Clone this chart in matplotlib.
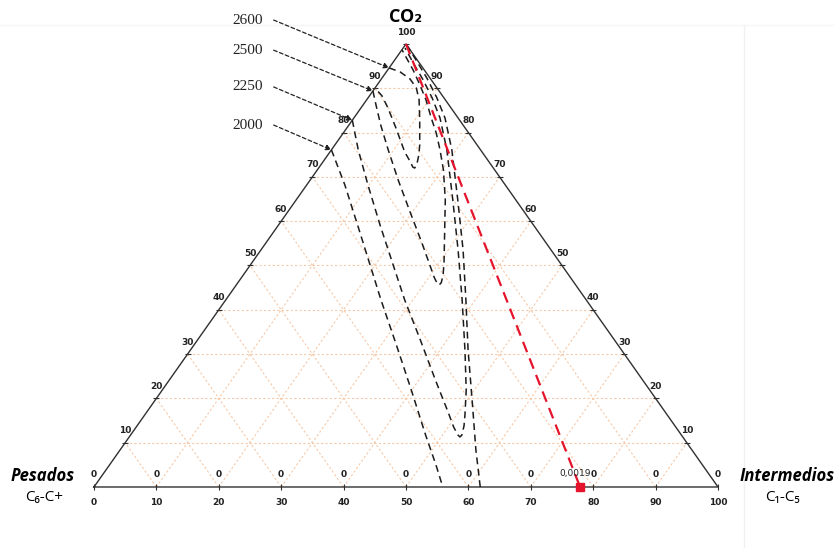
import numpy as np
import matplotlib
matplotlib.use('Agg')
import matplotlib.pyplot as plt

# envelope curves: CO2 % and Intermedios % (rest = Pesados)
p2600_co2 = [94.6, 93.7, 92.1, 90.1, 87.4, 82.8, 77.2, 74.9, 72.9, 72.0, 72.2, 73.4,
             75.6, 81.0, 85.6, 88.3, 89.8]
p2600_int = [0.0, 2.2, 4.6, 6.6, 8.4, 10.8, 13.6, 14.6, 15.3, 15.4, 15.0, 14.0,
             12.0, 7.9, 4.3, 2.0, 0.3]

p2500_co2 = [89.4, 86.2, 81.7, 76.1, 69.3, 62.1, 55.1, 49.4, 47.4, 46.1, 45.6, 46.1, 47.9,
             50.8, 58.0, 64.8, 71.6, 76.1, 79.9, 83.3, 87.4, 90.7, 94.1, 96.8, 98.7]
p2500_int = [0.0, 2.1, 5.1, 9.1, 14.1, 19.6, 25.0, 29.3, 30.8, 31.9, 32.5, 32.6, 32.0,
             30.7, 27.2, 23.9, 20.2, 17.4, 14.9, 12.4, 9.5, 6.9, 4.1, 1.7, 0.0]

p2250_co2 = [82.8, 76.1, 68.2, 59.1, 50.1, 42.2, 33.2, 24.2, 16.9, 13.5, 11.7, 11.3, 11.7,
             13.8, 16.3, 21.9, 30.9, 42.2, 53.5, 64.8, 76.1, 83.3, 87.8, 91.9, 95.5, 99.1]
p2250_int = [0.0, 4.3, 9.8, 16.3, 22.9, 28.7, 35.7, 42.6, 48.3, 50.9, 52.5, 53.0, 53.1,
             52.4, 51.3, 48.7, 44.0, 37.9, 31.6, 25.1, 18.5, 13.8, 10.3, 6.8, 3.5, 0.3]

p2000a_co2 = [76.1, 68.2, 59.1, 50.1, 42.2, 32.1, 21.9, 11.7, 5.0, 0.0]
p2000a_int = [0.0, 6.1, 12.7, 19.2, 24.9, 32.4, 39.9, 47.3, 52.3, 55.9]
p2000b_co2 = [0.0, 8.4, 19.6, 30.9, 42.2, 53.5, 64.8, 76.1, 83.3, 88.0, 92.3, 96.4, 99.6]
p2000b_int = [61.9, 57.0, 50.8, 44.5, 38.5, 32.4, 25.9, 19.3, 14.6, 10.9, 7.2, 3.4, 0.4]

# dilution line CO2 -> oil
red_co2 = [100, 0]
red_int = [0, 77.9]
red_label = '0,0019'

pressures = ['2600', '2500', '2250', '2000']
ticks = list(range(0, 101, 10))


def tern(co2, inter):
    co2 = np.asarray(co2, float)
    inter = np.asarray(inter, float)
    return inter + co2 / 2, co2


fig = plt.figure(figsize=(8.35, 5.48), dpi=100)
ax = fig.add_axes([0, 0, 1, 1])
ax.set_xlim(-15.06, 118.75)
ax.set_ylim(-13.77, 109.93)
ax.axis('off')

# faint border of the pasted picture
ax.plot([104.2, 104.2], [-13.77, 104.3], color='#f0f0f0', lw=1)
ax.plot([-15.06, 118.75], [104.3, 104.3], color='#f6f6f6', lw=1)

# grid
gc = '#f6c9a8'
for k in range(10, 100, 10):
    x, y = tern([k, k], [0, 100 - k])
    ax.plot(x, y, color=gc, lw=0.8, ls=(0, (2, 2)))
    x, y = tern([0, 100 - k], [k, k])
    ax.plot(x, y, color=gc, lw=0.8, ls=(0, (2, 2)))
    x, y = tern([0, k], [k, 0])
    ax.plot(x, y, color=gc, lw=0.8, ls=(0, (2, 2)))

# triangle
x, y = tern([0, 0, 100, 0], [0, 100, 0, 0])
ax.plot(x, y, color='#303030', lw=1.0)

# ticks and labels
tl = dict(fontsize=6.5, fontweight='bold', ha='center', va='center', color='#222222')
for t in ticks:
    ax.plot(t, 0, marker='|', ms=5, color='#303030', mew=0.8)
    ax.text(t, -3.4, str(t), **tl)
    ax.text(t, 2.9, '0', **tl)
for t in ticks[1:]:
    x, y = tern([t], [0])
    ax.plot(x, y, marker='_', ms=4, color='#303030', mew=0.8)
    ax.text(x[0], y[0] + 2.7, str(t), **tl)
for t in ticks[1:-1]:
    x, y = tern([t], [100 - t])
    ax.plot(x, y, marker='_', ms=4, color='#303030', mew=0.8)
    ax.text(x[0], y[0] + 2.7, str(t), **tl)

# envelopes
env = dict(color='#1c1c1c', lw=1.1, ls=(0, (4.5, 3)))
curves = [(p2600_co2, p2600_int), (p2500_co2, p2500_int), (p2250_co2, p2250_int),
          (p2000a_co2, p2000a_int)]
for c, i in curves + [(p2000b_co2, p2000b_int)]:
    x, y = tern(c, i)
    ax.plot(x, y, **env)

# red line with marker
x, y = tern(red_co2, red_int)
ax.plot(x, y, color='#e5132b', lw=1.6, ls=(0, (5, 3)))
ax.plot(x[-1], y[-1], marker='s', ms=6, color='#e5132b')
ax.text(x[-1] - 0.8, 3.1, red_label, fontsize=6.5, ha='center', va='center', color='#222222')

# pressure labels with arrows
lab_y = [105.4, 98.6, 90.3, 81.7]
for p, ly, (c, i) in zip(pressures, lab_y, curves):
    ax.text(27.0, ly, p, fontsize=11, family='Liberation Serif', ha='right', va='center',
            color='#222222')
    x, y = tern(c[:1], i[:1])
    ax.annotate('', xy=(x[0], y[0]), xytext=(28.8, ly),
                arrowprops=dict(arrowstyle='-|>', ls=(0, (3, 2)), lw=0.9, color='#222222',
                                mutation_scale=8, shrinkA=0, shrinkB=0))

# titles
ax.text(50, 106.1, 'CO₂', fontsize=13, fontweight='bold', ha='center', va='center',
        family=['Open Sans', 'DejaVu Sans'])
ax.text(-8.3, 2.5, 'Pesados', fontsize=12, fontweight='bold', style='italic', ha='center',
        va='center', family=['Open Sans', 'DejaVu Sans'])
ax.text(-8.0, -2.3, 'C₆-C+', fontsize=11, ha='center', va='center',
        family=['Open Sans', 'DejaVu Sans'])
ax.text(111.0, 2.5, 'Intermedios', fontsize=12, fontweight='bold', style='italic', ha='center',
        va='center', family=['Open Sans', 'DejaVu Sans'])
ax.text(110.3, -2.3, 'C₁-C₅', fontsize=11, ha='center', va='center',
        family=['Open Sans', 'DejaVu Sans'])

fig.savefig('out.png', dpi=100)
